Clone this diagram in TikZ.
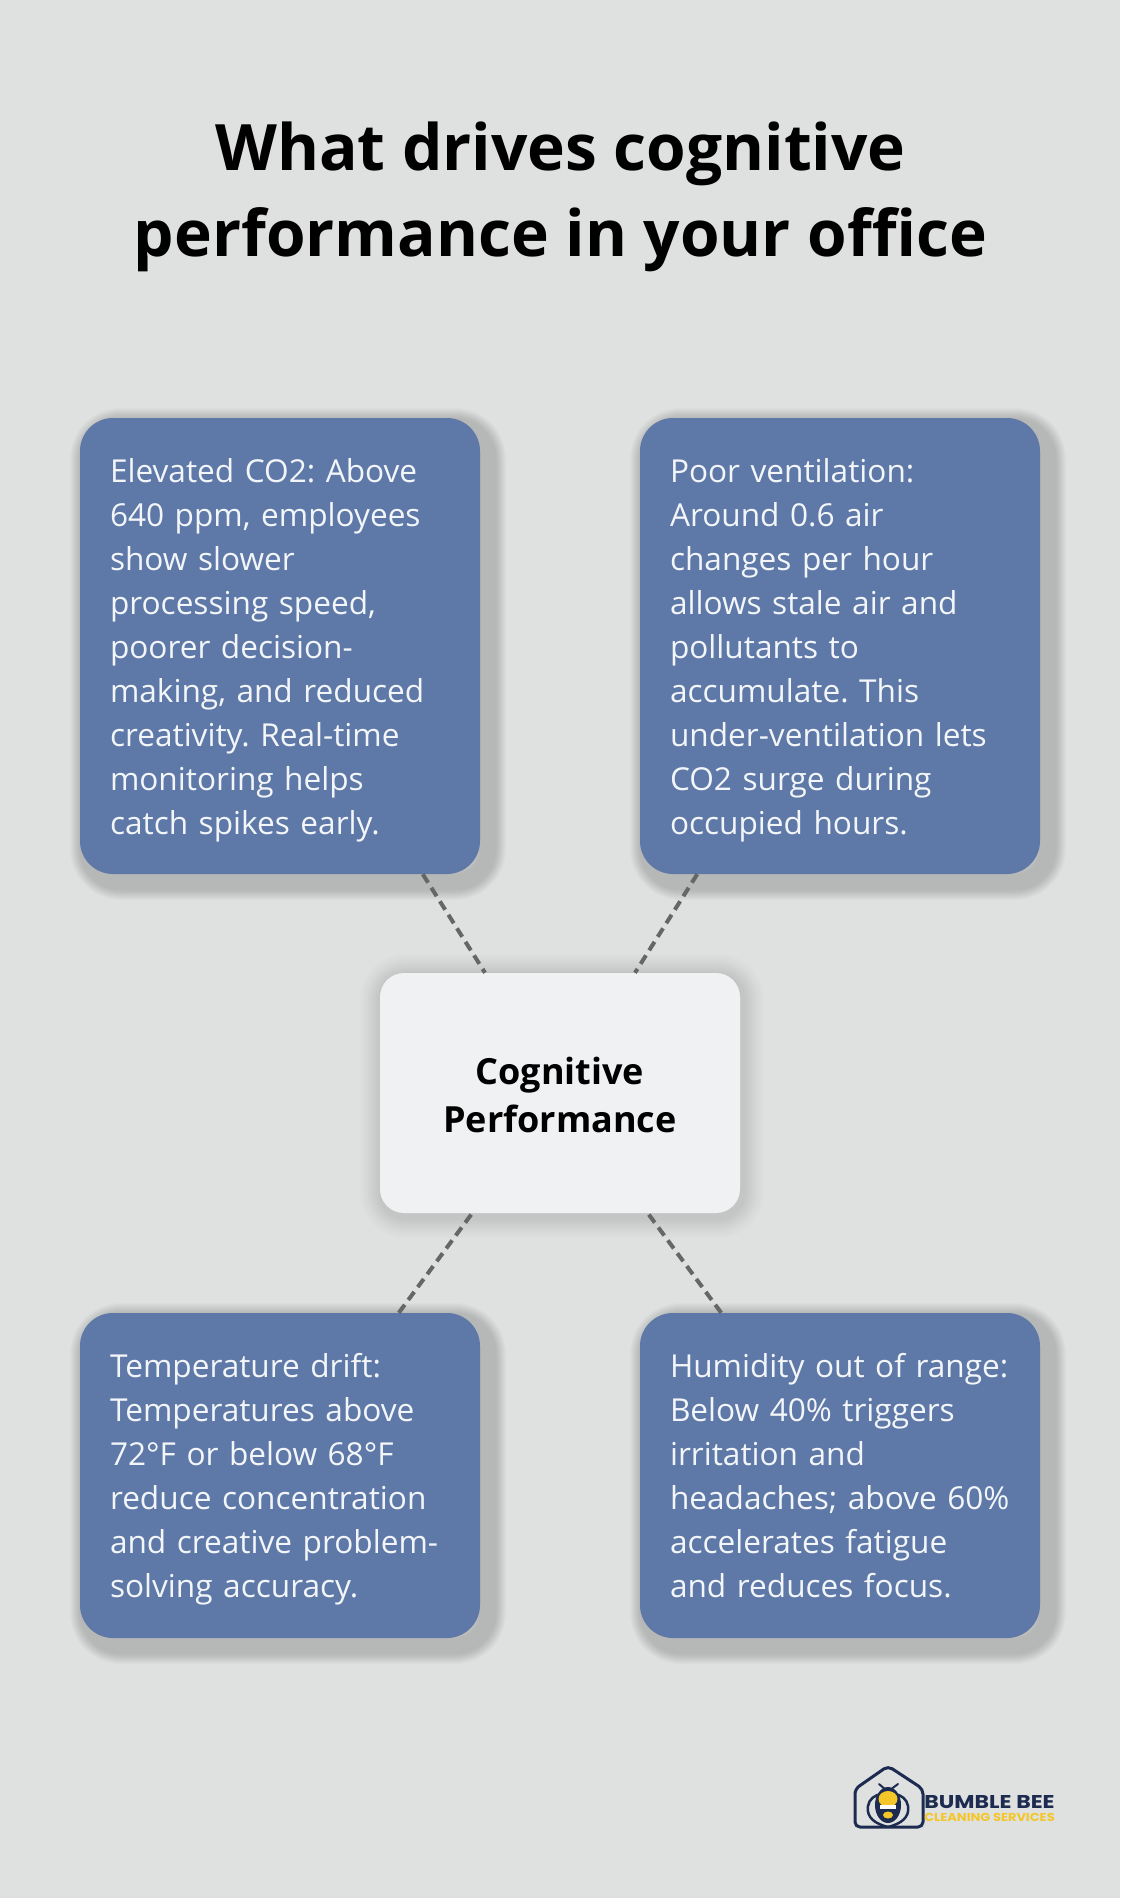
\documentclass[tikz,border=0pt]{standalone}
\usepackage{fontspec}
\setmainfont{Open Sans}
\newfontfamily\logofont{Poppins}
\usepackage{xcolor}
\definecolor{pagegray}{HTML}{DFE1E1}
\definecolor{boxblue}{HTML}{5E78A8}
\definecolor{boxlight}{HTML}{EFF1F3}
\definecolor{boxtext}{HTML}{F3F6F8}
\definecolor{linkgray}{HTML}{666666}
\definecolor{beenavy}{HTML}{1C2B4F}
\definecolor{beeyellow}{HTML}{F4C62A}

\begin{document}
\frenchspacing
\begin{tikzpicture}[x=1pt, y=1pt, node distance=280pt,
  softshadow/.style = {preaction={draw=black, draw opacity=.014, line width=#1pt, transform canvas={shift={(8pt,-8pt)}}}},
  softglow/.style = {preaction={draw=black, draw opacity=.013, line width=#1pt, transform canvas={shift={(2pt,-3pt)}}}},
  block/.style = {fill=boxblue, rounded corners=33pt, minimum width=400pt, text width=340pt, inner xsep=30pt, inner ysep=0pt, align=left, text=boxtext, font=\fontsize{31.6}{44}\selectfont, softshadow/.list={36,34,32,30,28,26,24,22,20,18,16}},
  centerblock/.style = {fill=boxlight, rounded corners=24pt, minimum width=360pt, minimum height=240pt, inner ysep=0pt, align=center, font=\bfseries\fontsize{36}{48}\selectfont, softglow/.list={44,38,32,28,24,20,16,12,8}},
  link/.style = {draw=linkgray, line width=4pt, dash pattern=on 10pt off 6pt},
  logoline/.style = {draw=beenavy, line width=3pt, line join=round, line cap=round},
  logotext/.style = {inner sep=0pt, transform shape, xscale=#1}]

\useasboundingbox (0,0) rectangle (1120,-1898);
\fill[pagegray] (0,0) rectangle (1120,-1898);

% Nodes
\node (title) [align=center, font=\bfseries\fontsize{64}{86}\selectfont] at (560.5,-196.5) {What drives cognitive\\performance in your office};
\node (co2) [block, minimum height=456pt] at (280,-646) {\rule{0pt}{38pt}Elevated CO2: Above\\640 ppm, employees\\show slower\\processing speed,\\poorer decision-\\making, and reduced\\creativity. Real-time\\monitoring helps\\catch spikes early.\strut};
\node (performance) [centerblock, right of=co2, yshift=-447pt] {\rule{0pt}{46pt}Cognitive\\Performance\strut};
\node (ventilation) [block, minimum height=456pt, right of=performance, yshift=447pt] {\rule{0pt}{38pt}Poor ventilation:\\Around 0.6 air\\changes per hour\\allows stale air and\\pollutants to\\accumulate. This\\under-ventilation lets\\CO2 surge during\\occupied hours.\strut};
\node (temperature) [block, minimum height=325pt, below of=co2, yshift=-549.5pt] {\rule{0pt}{38pt}Temperature drift:\\Temperatures above\\72°F or below 68°F\\reduce concentration\\and creative problem-\\solving accuracy.\strut};
\node (humidity) [block, minimum height=325pt, right of=temperature, xshift=280pt] {\rule{0pt}{38pt}Humidity out of range:\\Below 40\% triggers\\irritation and\\headaches; above 60\%\\accelerates fatigue\\and reduces focus.\strut};

% Links
\draw [link] (co2) -- (performance);
\draw [link] (ventilation) -- (performance);
\draw [link] (temperature) -- (performance);
\draw [link] (humidity) -- (performance);

% Logo
\draw [logoline, rounded corners=5pt] (888,-1766) -- (923,-1789) -- (923,-1827) -- (855,-1827) -- (855,-1789) -- cycle;
\draw [logoline, line width=2.5pt] (888,-1827) .. controls (876,-1824) and (866,-1818) .. (868,-1806) .. controls (869,-1799) and (875,-1795) .. (881,-1794);
\draw [logoline, line width=2.5pt] (888,-1827) .. controls (900,-1824) and (910,-1818) .. (908,-1806) .. controls (907,-1799) and (901,-1795) .. (895,-1794);
\draw [logoline, line width=2pt] (879,-1784) -- (886,-1790);
\draw [logoline, line width=2pt] (898,-1784) -- (890,-1790);
\fill [beenavy] (888,-1805) ellipse (13pt and 18pt);
\fill [beeyellow] (888,-1799) ellipse (9.5pt and 8pt);
\fill [white] (880,-1805) rectangle (896,-1809);
\fill [beeyellow] (888,-1815) ellipse (5pt and 3.5pt);
\node (logoname) [logotext=1.19, text=beenavy, font=\logofont\bfseries\fontsize{18.5}{18.5}\selectfont] at (989.5,-1802) {BUMBLE BEE};
\node (logotag) [logotext=1.13, text=beeyellow, font=\logofont\bfseries\fontsize{11.5}{11.5}\selectfont] at (989.5,-1817) {CLEANING SERVICES};
\end{tikzpicture}
\end{document}
